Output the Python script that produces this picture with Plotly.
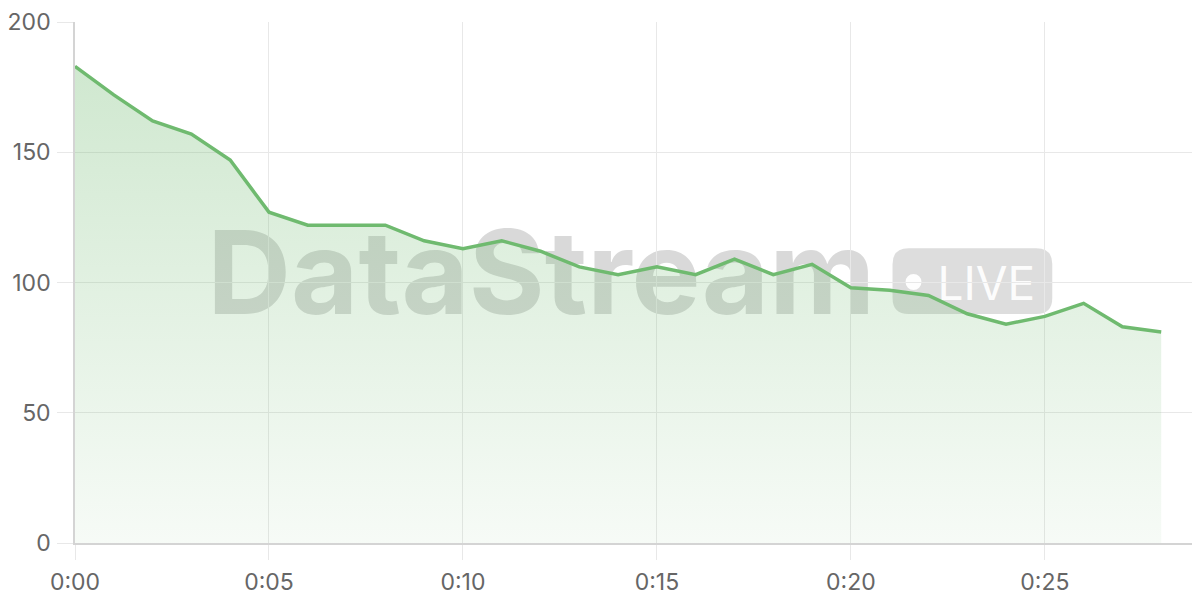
import plotly.graph_objects as go

# ---- data ----
minutes = [0, 1, 2, 3, 4, 5, 6, 7, 8, 9, 10, 11, 12, 13, 14, 15, 16, 17, 18, 19,
           20, 21, 22, 23, 24, 25, 26, 27, 28]
values = [183, 172, 162, 157, 147, 127, 122, 122, 122, 116, 113, 116, 112, 106, 103,
          106, 103, 109, 103, 107, 98, 97, 95, 88, 84, 87, 92, 83, 81]
tick_minutes = [0, 5, 10, 15, 20, 25]
tick_labels = ["0:00", "0:05", "0:10", "0:15", "0:20", "0:25"]
y_ticks = [0, 50, 100, 150, 200]

LINE = "#6fba6f"
GRID = "#e8e8e8"

# page has an 8px body margin; figure is sized to fit the 1200x600 window
OFF = 8
FW, FH = 1200 - OFF, 600 - OFF
# plot-area geometry (page pixels) for placing the watermark decoration
L, R, T, B = 73, 1200, 20, 543
W, H = R - L, B - T


def px(x):
    return (x - L) / W


def py(y):
    return (B - y) / H


fig = go.Figure()
fig.add_trace(go.Scatter(
    x=minutes, y=values, mode="lines",
    line=dict(color=LINE, width=3.5),
    fill="tozeroy",
    fillgradient=dict(type="vertical",
                      colorscale=[[0, "rgba(111,185,111,0.06)"],
                                  [1, "rgba(111,185,111,0.33)"]]),
    hoverinfo="skip",
))

# watermark: "DataStream" text
fig.add_shape(type="rect", xref="paper", yref="paper",
              x0=px(205), x1=px(875), y0=py(315), y1=py(219),
              line_width=0, fillcolor="rgba(0,0,0,0)", layer="between",
              label=dict(text="DataStream", textposition="middle center",
                         font=dict(family="Inter", size=116, weight=700,
                                   color="rgba(110,110,110,0.26)")))

# LIVE pill (rounded rectangle)
x0, x1, y0, y1 = 892, 1052, 247, 313
r = 16
rx, ry = r / W, r / H
X0, X1, Y0, Y1 = px(x0), px(x1), py(y1), py(y0)
path = (f"M {X0+rx},{Y0} L {X1-rx},{Y0} Q {X1},{Y0} {X1},{Y0+ry} "
        f"L {X1},{Y1-ry} Q {X1},{Y1} {X1-rx},{Y1} "
        f"L {X0+rx},{Y1} Q {X0},{Y1} {X0},{Y1-ry} "
        f"L {X0},{Y0+ry} Q {X0},{Y0} {X0+rx},{Y0} Z")
fig.add_shape(type="path", xref="paper", yref="paper", path=path,
              line_width=0, fillcolor="rgba(110,110,110,0.23)", layer="between")
fig.add_shape(type="circle", xref="paper", yref="paper",
              x0=px(905), x1=px(921), y0=py(289), y1=py(273),
              line_width=0, fillcolor="rgba(255,255,255,0.95)", layer="between")
fig.add_shape(type="rect", xref="paper", yref="paper",
              x0=px(930), x1=px(1042), y0=py(306), y1=py(256),
              line_width=0, fillcolor="rgba(0,0,0,0)", layer="between",
              label=dict(text="LIVE", textposition="middle center",
                         font=dict(family="Inter", size=46, weight=400,
                                   color="rgba(255,255,255,0.95)")))

fig.update_layout(
    width=FW, height=FH,
    margin=dict(l=L - OFF, r=1200 - R, t=T - OFF, b=FH - (B - OFF)),
    paper_bgcolor="white", plot_bgcolor="white",
    showlegend=False,
    font=dict(family="Inter", size=23, color="#666666"),
)
fig.update_xaxes(
    range=[0, 29], tickmode="array", tickvals=tick_minutes, ticktext=tick_labels,
    showgrid=True, gridcolor=GRID, gridwidth=1,
    ticks="outside", ticklen=15, tickcolor=GRID, tickwidth=1,
    showline=True, linecolor="#d4d4d4", linewidth=1.5,
    zeroline=False, ticklabelstandoff=3, ticklabeloverflow="allow",
)
fig.update_yaxes(
    range=[0, 200], tickmode="array", tickvals=y_ticks,
    showgrid=True, gridcolor=GRID, gridwidth=1,
    ticks="outside", ticklen=16, tickcolor=GRID, tickwidth=1,
    showline=True, linecolor="#d4d4d4", linewidth=1.5,
    zeroline=False, ticklabelstandoff=2, ticklabeloverflow="allow",
)

fig.write_html("out.html")
